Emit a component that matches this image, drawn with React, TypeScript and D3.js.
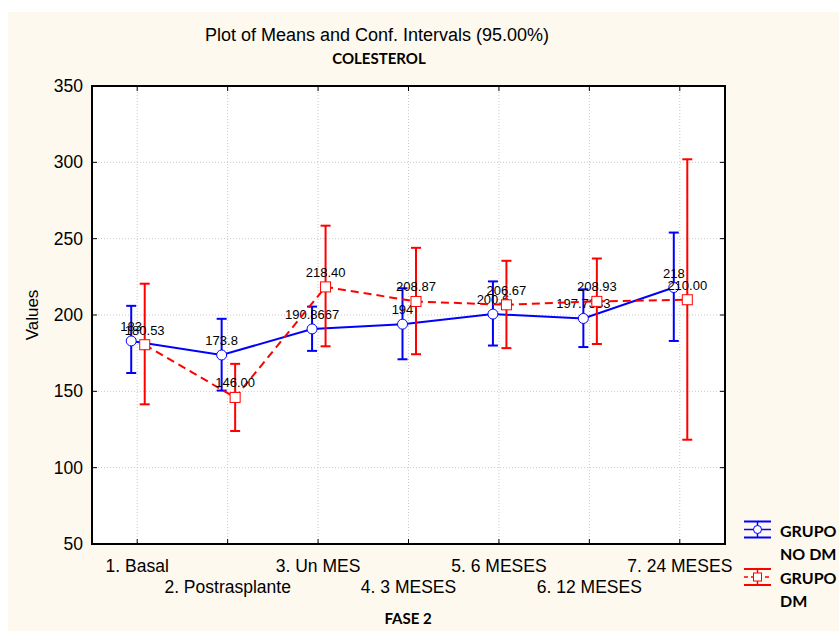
import { useEffect, useRef } from 'react'
import * as d3 from 'd3'

const categories = ['1. Basal', '2. Postrasplante', '3. Un MES', '4. 3 MESES', '5. 6 MESES', '6. 12 MESES', '7. 24 MESES']
const noDmMean = [183, 173.8, 190.8667, 194, 200.6, 197.7333, 218]
const noDmLow = [162, 150.5, 176.5, 171, 180, 179, 183]
const noDmHigh = [206, 197.5, 205.5, 217.5, 222, 216.8, 254]
const dmMean = [180.53, 146.0, 218.4, 208.87, 206.67, 208.93, 210.0]
const dmLow = [141.5, 124, 179.5, 174.3, 178.3, 181, 118.3]
const dmHigh = [220.5, 168, 258.5, 244, 235.5, 237, 302]
const yTicks = [50, 100, 150, 200, 250, 300, 350]

const ARIAL = '"Liberation Sans", Arial, sans-serif'
const CALIBRI = 'Lato, "Open Sans", sans-serif'

export default function App() {
  const svgRef = useRef<SVGSVGElement | null>(null)

  useEffect(() => {
    if (!svgRef.current) return
    const W = 839, H = 631
    const plot = { left: 92, right: 725, top: 86, bottom: 544 }

    d3.select(svgRef.current).selectAll('*').remove()
    const svg = d3.select(svgRef.current)

    svg.append('rect').attr('width', W).attr('height', H).attr('fill', '#fff')
    svg.append('rect').attr('x', 8).attr('y', 12).attr('width', W - 8).attr('height', H - 12).attr('fill', '#fdf9ef')
    svg.append('rect')
      .attr('x', plot.left).attr('y', plot.top)
      .attr('width', plot.right - plot.left).attr('height', plot.bottom - plot.top)
      .attr('fill', '#fff')

    const x = d3.scaleLinear().domain([0.5, 7.5]).range([plot.left, plot.right])
    const y = d3.scaleLinear().domain([50, 350]).range([plot.bottom, plot.top])
    const idx = categories.map((_, i) => i + 1)

    // grid
    const grid = svg.append('g').attr('stroke', '#c8c8c8').attr('stroke-width', 1).attr('stroke-dasharray', '1,2')
    yTicks.slice(1, -1).forEach(t => {
      grid.append('line').attr('x1', plot.left).attr('x2', plot.right).attr('y1', y(t)).attr('y2', y(t))
    })
    idx.forEach(i => {
      grid.append('line').attr('x1', x(i)).attr('x2', x(i)).attr('y1', plot.top).attr('y2', plot.bottom)
    })

    // inward ticks
    const ticks = svg.append('g').attr('stroke', '#000').attr('stroke-width', 1)
    yTicks.forEach(t => {
      ticks.append('line').attr('x1', plot.left).attr('x2', plot.left + 5).attr('y1', y(t)).attr('y2', y(t))
      ticks.append('line').attr('x1', plot.right - 5).attr('x2', plot.right).attr('y1', y(t)).attr('y2', y(t))
    })
    idx.forEach(i => {
      ticks.append('line').attr('x1', x(i)).attr('x2', x(i)).attr('y1', plot.bottom).attr('y2', plot.bottom - 5)
      ticks.append('line').attr('x1', x(i)).attr('x2', x(i)).attr('y1', plot.top).attr('y2', plot.top + 5)
    })

    // series
    const drawSeries = (mean: number[], low: number[], high: number[], color: string, dx: number, dashed: boolean, marker: 'circle' | 'square', fmt: (v: number) => string) => {
      const g = svg.append('g')
      const pts = mean.map((m, i) => [x(i + 1) + dx, y(m)] as [number, number])
      g.append('path')
        .attr('d', d3.line()(pts))
        .attr('fill', 'none')
        .attr('stroke', color)
        .attr('stroke-width', 2)
        .attr('stroke-dasharray', dashed ? '8,5' : null)
      mean.forEach((m, i) => {
        const cx = x(i + 1) + dx
        g.append('line').attr('x1', cx).attr('x2', cx).attr('y1', y(low[i])).attr('y2', y(high[i])).attr('stroke', color).attr('stroke-width', 2)
        ;[low[i], high[i]].forEach(v => {
          g.append('line').attr('x1', cx - 5).attr('x2', cx + 5).attr('y1', y(v)).attr('y2', y(v)).attr('stroke', color).attr('stroke-width', 2)
        })
      })
      mean.forEach((m, i) => {
        const cx = x(i + 1) + dx, cy = y(m)
        if (marker === 'circle') {
          g.append('circle').attr('cx', cx).attr('cy', cy).attr('r', 5).attr('fill', '#fff').attr('stroke', color).attr('stroke-width', 1)
        } else {
          g.append('rect').attr('x', cx - 5).attr('y', cy - 5).attr('width', 10).attr('height', 10).attr('fill', '#fff').attr('stroke', color).attr('stroke-width', 1)
        }
        g.append('text')
          .attr('x', cx).attr('y', cy - 10)
          .attr('text-anchor', 'middle')
          .attr('font-family', ARIAL).attr('font-size', 13).attr('fill', '#000')
          .text(fmt(m))
      })
    }
    drawSeries(noDmMean, noDmLow, noDmHigh, '#0000ff', -6, false, 'circle', v => String(v))
    drawSeries(dmMean, dmLow, dmHigh, '#ff0000', 7.5, true, 'square', v => v.toFixed(2))

    // frame
    svg.append('rect')
      .attr('x', plot.left).attr('y', plot.top)
      .attr('width', plot.right - plot.left).attr('height', plot.bottom - plot.top)
      .attr('fill', 'none').attr('stroke', '#000').attr('stroke-width', 2)

    // y tick labels
    yTicks.forEach(t => {
      svg.append('text')
        .attr('x', 83).attr('y', y(t) + 6)
        .attr('text-anchor', 'end')
        .attr('font-family', ARIAL).attr('font-size', 17.5).attr('fill', '#000')
        .text(String(t))
    })

    // x tick labels (staggered)
    categories.forEach((c, i) => {
      svg.append('text')
        .attr('x', x(i + 1)).attr('y', i % 2 === 0 ? 572 : 593)
        .attr('text-anchor', 'middle')
        .attr('font-family', ARIAL).attr('font-size', 17.5).attr('fill', '#000')
        .text(c)
    })

    // titles
    svg.append('text').attr('x', 377).attr('y', 41).attr('text-anchor', 'middle')
      .attr('font-family', ARIAL).attr('font-size', 18).attr('fill', '#000')
      .text('Plot of Means and Conf. Intervals (95.00%)')
    svg.append('text').attr('x', 379).attr('y', 64).attr('text-anchor', 'middle')
      .attr('font-family', CALIBRI).attr('font-weight', 'bold').attr('font-size', 15).attr('fill', '#000')
      .text('COLESTEROL')
    svg.append('text').attr('x', 408).attr('y', 624).attr('text-anchor', 'middle')
      .attr('font-family', CALIBRI).attr('font-weight', 'bold').attr('font-size', 15).attr('fill', '#000')
      .text('FASE 2')
    svg.append('text')
      .attr('transform', `translate(38,${(plot.top + plot.bottom) / 2}) rotate(-90)`)
      .attr('text-anchor', 'middle')
      .attr('font-family', ARIAL).attr('font-size', 17).attr('fill', '#000')
      .text('Values')

    // legend
    const legend = [
      { color: '#0000ff', marker: 'circle', dashed: false, lines: ['GRUPO', 'NO DM'], cy: 529.5 },
      { color: '#ff0000', marker: 'square', dashed: true, lines: ['GRUPO', 'DM'], cy: 577 },
    ]
    legend.forEach(l => {
      const g = svg.append('g')
      const cx = 757.5
      ;[-8, 8].forEach(d => {
        g.append('line').attr('x1', 744).attr('x2', 771).attr('y1', l.cy + d).attr('y2', l.cy + d).attr('stroke', l.color).attr('stroke-width', 2)
      })
      g.append('line').attr('x1', 744).attr('x2', 771).attr('y1', l.cy).attr('y2', l.cy)
        .attr('stroke', l.color).attr('stroke-width', 1.5).attr('stroke-dasharray', l.dashed ? '4,3' : null)
      g.append('line').attr('x1', cx).attr('x2', cx).attr('y1', l.cy - 8).attr('y2', l.cy + 8).attr('stroke', l.color).attr('stroke-width', 1.5)
      if (l.marker === 'circle') {
        g.append('circle').attr('cx', cx).attr('cy', l.cy).attr('r', 4).attr('fill', '#fff').attr('stroke', l.color)
      } else {
        g.append('rect').attr('x', cx - 4).attr('y', l.cy - 4).attr('width', 8).attr('height', 8).attr('fill', '#fff').attr('stroke', l.color)
      }
      l.lines.forEach((t, k) => {
        g.append('text').attr('x', 780).attr('y', l.cy + 7 + k * 23)
          .attr('font-family', CALIBRI).attr('font-weight', 'bold').attr('font-size', 16).attr('fill', '#000')
          .text(t)
      })
    })
  }, [])

  return (
    <svg ref={svgRef} width={839} height={631} style={{ position: 'absolute', left: 0, top: 0 }} />
  )
}
